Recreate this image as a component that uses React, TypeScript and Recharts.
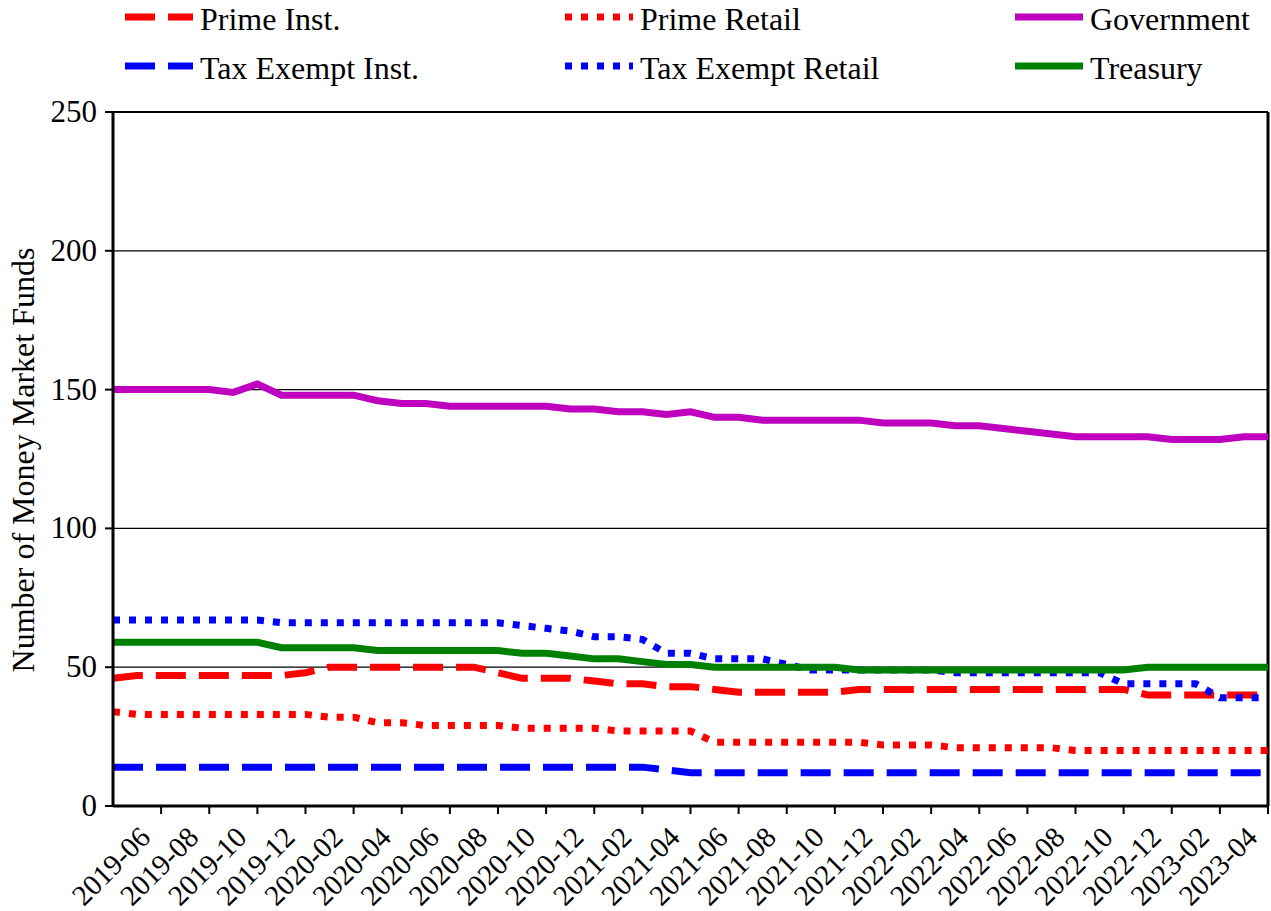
import React from 'react';
import { LineChart, Line, XAxis, YAxis, CartesianGrid, ReferenceLine } from 'recharts';

const FONT = 'Liberation Serif, DejaVu Serif, serif';
const TXT = { fontFamily: FONT, fontSize: 32 };

const months = [
    '2019-04', '2019-05', '2019-06', '2019-07', '2019-08', '2019-09', '2019-10', '2019-11', '2019-12',
    '2020-01', '2020-02', '2020-03', '2020-04', '2020-05', '2020-06', '2020-07', '2020-08', '2020-09', '2020-10', '2020-11', '2020-12',
    '2021-01', '2021-02', '2021-03', '2021-04', '2021-05', '2021-06', '2021-07', '2021-08', '2021-09', '2021-10', '2021-11', '2021-12',
    '2022-01', '2022-02', '2022-03', '2022-04', '2022-05', '2022-06', '2022-07', '2022-08', '2022-09', '2022-10', '2022-11', '2022-12',
    '2023-01', '2023-02', '2023-03', '2023-04',
];

const primeInst = [
    46, 47, 47, 47, 47, 47, 47, 47, 48,
    50, 50, 50, 50, 50, 50, 50, 48, 46, 46, 46, 45,
    44, 44, 43, 43, 42, 41, 41, 41, 41, 41, 42, 42,
    42, 42, 42, 42, 42, 42, 42, 42, 42, 42, 40, 40,
    40, 40, 40, 40,
];

const taxExemptInst = [
    14, 14, 14, 14, 14, 14, 14, 14, 14,
    14, 14, 14, 14, 14, 14, 14, 14, 14, 14, 14, 14,
    14, 14, 13, 12, 12, 12, 12, 12, 12, 12, 12, 12,
    12, 12, 12, 12, 12, 12, 12, 12, 12, 12, 12, 12,
    12, 12, 12, 12,
];

const primeRetail = [
    34, 33, 33, 33, 33, 33, 33, 33, 33,
    32, 32, 30, 30, 29, 29, 29, 29, 28, 28, 28, 28,
    27, 27, 27, 27, 23, 23, 23, 23, 23, 23, 23, 22,
    22, 22, 21, 21, 21, 21, 21, 20, 20, 20, 20, 20,
    20, 20, 20, 20,
];

const taxExemptRetail = [
    67, 67, 67, 67, 67, 67, 67, 66, 66,
    66, 66, 66, 66, 66, 66, 66, 66, 65, 64, 63, 61,
    61, 60, 55, 55, 53, 53, 53, 51, 49, 49, 49, 49,
    49, 49, 48, 48, 48, 48, 48, 48, 48, 44, 44, 44,
    44, 39, 39, 39,
];

const government = [
    150, 150, 150, 150, 150, 149, 152, 148, 148,
    148, 148, 146, 145, 145, 144, 144, 144, 144, 144, 143, 143,
    142, 142, 141, 142, 140, 140, 139, 139, 139, 139, 139, 138,
    138, 138, 137, 137, 136, 135, 134, 133, 133, 133, 133, 132,
    132, 132, 133, 133,
];

const treasury = [
    59, 59, 59, 59, 59, 59, 59, 57, 57,
    57, 57, 56, 56, 56, 56, 56, 56, 55, 55, 54, 53,
    53, 52, 51, 51, 50, 50, 50, 50, 50, 50, 49, 49,
    49, 49, 49, 49, 49, 49, 49, 49, 49, 49, 50, 50,
    50, 50, 50, 50,
];

const xTicks = [
    '2019-06', '2019-08', '2019-10', '2019-12', '2020-02', '2020-04', '2020-06', '2020-08', '2020-10', '2020-12',
    '2021-02', '2021-04', '2021-06', '2021-08', '2021-10', '2021-12', '2022-02', '2022-04', '2022-06', '2022-08',
    '2022-10', '2022-12', '2023-02', '2023-04',
];
const yTicks = [0, 50, 100, 150, 200, 250];

const SERIES = [
    { key: 'primeInst', name: 'Prime Inst.', color: '#ff0000', dash: '30 13' },
    { key: 'taxExemptInst', name: 'Tax Exempt Inst.', color: '#0000ff', dash: '30 13' },
    { key: 'primeRetail', name: 'Prime Retail', color: '#ff0000', dash: '7 9' },
    { key: 'taxExemptRetail', name: 'Tax Exempt Retail', color: '#0000ff', dash: '7 9' },
    { key: 'government', name: 'Government', color: '#bf00bf', dash: undefined },
    { key: 'treasury', name: 'Treasury', color: '#008000', dash: undefined },
];

const data = months.map((m, i) => ({
    month: m,
    primeInst: primeInst[i],
    taxExemptInst: taxExemptInst[i],
    primeRetail: primeRetail[i],
    taxExemptRetail: taxExemptRetail[i],
    government: government[i],
    treasury: treasury[i],
}));

const XTick = ({ x, y, payload }: any) => {
    const px = x - 9;
    const py = y + 23;
    return (
        <text x={px} y={py} transform={`rotate(-45, ${px}, ${py})`} textAnchor="end"
            style={{ fontFamily: FONT, fontSize: 29 }} fill="#000">
            {payload.value}
        </text>
    );
};

const YTick = ({ x, y, payload }: any) => (
    <text x={x} y={y} dy={10} textAnchor="end" style={{ fontFamily: FONT, fontSize: 31 }} fill="#000">
        {payload.value}
    </text>
);

// legend laid out like the original: 3 columns, 2 rows
const LEGEND_POS = [
    { col: 0, row: 0 }, { col: 0, row: 1 },
    { col: 1, row: 0 }, { col: 1, row: 1 },
    { col: 2, row: 0 }, { col: 2, row: 1 },
];
const COL_X = [125, 565, 1015];
const ROW_Y = [17, 66];

const ChartLegend = () => (
    <svg width={1271} height={100} style={{ position: 'absolute', left: 0, top: 0 }}>
        {SERIES.map((s, i) => {
            const { col, row } = LEGEND_POS[i];
            const x0 = COL_X[col];
            const y0 = ROW_Y[row];
            return (
                <g key={s.key}>
                    <line x1={x0} x2={x0 + 68} y1={y0} y2={y0} stroke={s.color} strokeWidth={7}
                        strokeDasharray={s.dash} />
                    <text x={x0 + 75} y={y0 + 13} style={TXT} fill="#000">{s.name}</text>
                </g>
            );
        })}
    </svg>
);

const YLabel = () => (
    <text x={34} y={460} transform="rotate(-90, 34, 460)" textAnchor="middle" style={TXT} fill="#000">
        Number of Money Market Funds
    </text>
);

export default function App() {
    return (
        <div style={{ position: 'absolute', left: 0, top: 0, width: 1271, height: 911, background: '#fff', fontFamily: FONT }}>
            <LineChart width={1271} height={911} data={data}
                margin={{ top: 112, right: 3, bottom: 0, left: 0 }}>
                <CartesianGrid vertical={false} stroke="#000" strokeWidth={1.2} />
                <XAxis dataKey="month" ticks={xTicks} interval={0} height={105}
                    tick={<XTick />} tickSize={8} tickMargin={2}
                    axisLine={{ stroke: '#000', strokeWidth: 3 }}
                    tickLine={{ stroke: '#000', strokeWidth: 2 }} />
                <YAxis type="number" domain={[0, 250]} ticks={yTicks} width={113}
                    tickSize={8} tickMargin={8} tick={<YTick />}
                    axisLine={{ stroke: '#000', strokeWidth: 3 }}
                    tickLine={{ stroke: '#000', strokeWidth: 2 }}
                    label={<YLabel />} />
                <ReferenceLine y={250} stroke="#000" strokeWidth={2} />
                <ReferenceLine x="2023-04" stroke="#000" strokeWidth={3} />
                {SERIES.map(s => (
                    <Line key={s.key} type="linear" dataKey={s.key} name={s.name} stroke={s.color}
                        strokeWidth={7} strokeDasharray={s.dash} dot={false} activeDot={false}
                        isAnimationActive={false} />
                ))}
            </LineChart>
            <ChartLegend />
        </div>
    );
}
